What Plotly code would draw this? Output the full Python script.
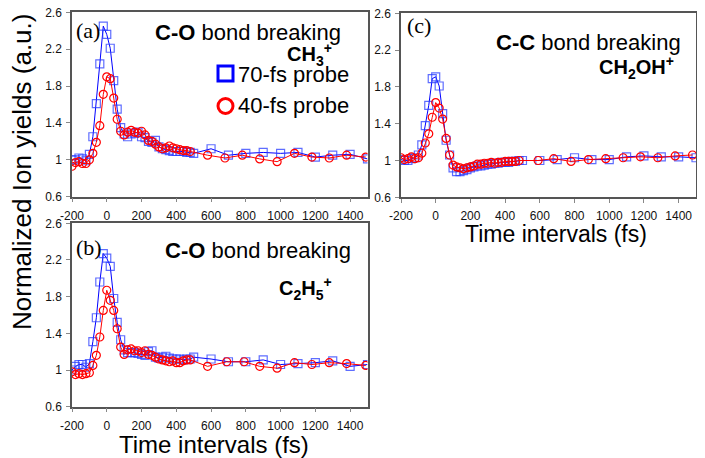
import plotly.graph_objects as go

W, H = 705, 458

# ---------------- data ----------------
# Panel (a): CH3+  (C-O bond breaking)
t_a_70 = [-200, -180, -160, -140, -120, -100, -80, -60, -40, -20, 0, 20, 40, 60, 80, 100, 120, 140, 160, 180,
          200, 220, 240, 260, 280, 300, 320, 340, 360, 380, 400, 420, 440, 460, 480, 500,
          600, 700, 800, 900, 1000, 1100, 1200, 1300, 1400, 1500]
y_a_70 = [1.00, 1.00, 1.02, 1.01, 0.99, 1.06, 1.25, 1.61, 2.04, 2.45, 2.36, 2.21, 1.86, 1.55, 1.35, 1.28, 1.25, 1.28, 1.29, 1.30,
          1.25, 1.24, 1.20, 1.19, 1.21, 1.14, 1.12, 1.11, 1.10, 1.09, 1.09, 1.09, 1.09, 1.08, 1.08, 1.07,
          1.12, 1.05, 1.07, 1.08, 1.07, 1.08, 1.03, 1.05, 1.06, 1.01]
t_a_40 = [-200, -180, -160, -140, -120, -100, -80, -60, -40, -20, 0, 20, 40, 60, 80, 100, 120, 140, 160, 180,
          200, 220, 240, 260, 280, 300, 320, 340, 360, 380, 400, 420, 440, 460, 480,
          580, 680, 780, 880, 980, 1080, 1180, 1280, 1380, 1490]
y_a_40 = [0.93, 0.97, 0.98, 0.96, 0.96, 1.00, 1.07, 1.19, 1.37, 1.71, 1.90, 1.88, 1.67, 1.44, 1.31, 1.27, 1.30, 1.32, 1.30, 1.29,
          1.31, 1.27, 1.21, 1.20, 1.17, 1.14, 1.12, 1.13, 1.15, 1.13, 1.12, 1.11, 1.10, 1.10, 1.09,
          1.05, 1.02, 1.05, 1.01, 0.98, 1.07, 1.03, 1.02, 1.05, 1.03]

# Panel (b): C2H5+  (C-O bond breaking)
t_b_70 = [-200, -180, -160, -140, -120, -100, -80, -60, -40, -20, 0, 20, 40, 60, 80, 100, 120, 140, 160, 180,
          200, 220, 240, 260, 280, 300, 320, 340, 360, 380, 400, 420, 440, 460, 480, 500,
          600, 700, 800, 900, 1000, 1100, 1200, 1300, 1400, 1500]
y_b_70 = [1.00, 1.04, 1.06, 1.06, 1.03, 1.07, 1.31, 1.57, 1.96, 2.27, 2.22, 2.13, 1.78, 1.52, 1.33, 1.22, 1.19, 1.19, 1.19, 1.18,
          1.17, 1.16, 1.20, 1.21, 1.14, 1.13, 1.14, 1.15, 1.13, 1.12, 1.12, 1.12, 1.11, 1.12, 1.12, 1.14,
          1.12, 1.09, 1.09, 1.11, 1.06, 1.07, 1.08, 1.10, 1.04, 1.06]
t_b_40 = [-200, -180, -160, -140, -120, -100, -80, -60, -40, -20, 0, 20, 40, 60, 80, 100, 120, 140, 160, 180,
          200, 220, 240, 260, 280, 300, 320, 340, 360, 380, 400, 420, 440, 460, 480,
          580, 690, 790, 880, 980, 1080, 1180, 1280, 1380, 1490]
y_b_40 = [0.98, 0.95, 0.96, 0.95, 0.96, 0.97, 1.05, 1.16, 1.36, 1.65, 1.87, 1.76, 1.65, 1.45, 1.25, 1.17, 1.22, 1.23, 1.21, 1.21,
          1.19, 1.21, 1.17, 1.16, 1.14, 1.12, 1.11, 1.10, 1.09, 1.10, 1.08, 1.08, 1.10, 1.11, 1.11,
          1.04, 1.09, 1.09, 1.04, 1.02, 1.08, 1.06, 1.08, 1.07, 1.05]

# Panel (c): CH2OH+  (C-C bond breaking)
t_c_70 = [-200, -180, -160, -140, -120, -100, -80, -60, -40, -20, 0, 20, 40, 60, 80, 100, 120, 140, 160, 180,
          200, 220, 240, 260, 280, 300, 320, 340, 360, 380, 400, 420, 440, 460, 480, 500,
          600, 700, 800, 900, 1000, 1100, 1200, 1300, 1400, 1500]
y_c_70 = [1.01, 1.00, 1.00, 1.02, 1.03, 1.06, 1.17, 1.38, 1.60, 1.89, 1.91, 1.81, 1.51, 1.22, 1.06, 0.92, 0.88, 0.88, 0.89, 0.90,
          0.92, 0.93, 0.94, 0.94, 0.95, 0.96, 0.96, 0.97, 0.97, 0.98, 0.98, 0.98, 0.99, 0.99, 1.00, 1.00,
          1.00, 1.01, 1.03, 1.01, 1.01, 1.04, 1.05, 1.04, 1.04, 1.03]
t_c_40 = [-200, -180, -160, -140, -120, -100, -80, -60, -40, -20, 0, 20, 40, 60, 80, 100, 120, 140, 160, 180,
          200, 220, 240, 260, 280, 300, 320, 340, 360, 380, 400, 420, 440, 460, 480,
          590, 680, 780, 880, 980, 1080, 1180, 1280, 1380, 1480]
y_c_40 = [1.03, 1.01, 1.02, 1.04, 1.02, 1.03, 1.08, 1.19, 1.29, 1.47, 1.63, 1.57, 1.45, 1.24, 1.06, 0.95, 0.93, 0.92, 0.91, 0.92,
          0.93, 0.94, 0.96, 0.96, 0.97, 0.97, 0.98, 0.97, 0.98, 0.98, 0.99, 0.99, 0.99, 0.99, 1.00,
          1.00, 1.02, 0.99, 1.01, 1.02, 1.03, 1.04, 1.03, 1.05, 1.06]

x_ticks = [-200, 0, 200, 400, 600, 800, 1000, 1200, 1400]
x_tick_labels = ["-200", "0", "200", "400", "600", "800", "1000", "1200", "1400"]
y_ticks = [0.6, 1.0, 1.4, 1.8, 2.2, 2.6]
y_tick_labels = ["0.6", "1", "1.4", "1.8", "2.2", "2.6"]

# ---------------- helpers ----------------
OFF = 8  # page body margin offset

def fx(p):
    return (p - OFF) / W

def fy(p):
    return 1 - (p - OFF) / H

BLUE = "rgb(0,0,255)"
RED = "rgb(255,0,0)"
FONT = "Liberation Sans, Arial, sans-serif"
SERIF = "Liberation Serif, Times New Roman, serif"

fig = go.Figure()

panels = [
    ("x", "y", t_a_70, y_a_70, t_a_40, y_a_40),
    ("x2", "y2", t_b_70, y_b_70, t_b_40, y_b_40),
    ("x3", "y3", t_c_70, y_c_70, t_c_40, y_c_40),
]
for xa, ya, tb, yb, tr, yr in panels:
    fig.add_trace(go.Scatter(
        x=tb, y=yb, xaxis=xa, yaxis=ya, mode="lines+markers",
        line=dict(color=BLUE, width=1),
        marker=dict(symbol="square-open", size=8, color="rgba(40,60,255,0.75)", line=dict(width=1.2)),
        showlegend=False, name="70-fs probe"))
    fig.add_trace(go.Scatter(
        x=tr, y=yr, xaxis=xa, yaxis=ya, mode="lines+markers",
        line=dict(color=RED, width=1),
        marker=dict(symbol="circle-open", size=8, color=RED, line=dict(width=1.2)),
        showlegend=False, name="40-fs probe"))

def xaxis(domain, anchor):
    return dict(domain=domain, anchor=anchor, range=[-200, 1500], tickvals=x_ticks, ticktext=x_tick_labels,
                ticks="outside", ticklen=4, tickcolor="#888", tickwidth=1, automargin=False,
                ticklabelstandoff=3, ticklabeloverflow="allow",
                showline=True, mirror=True, linecolor="#555", linewidth=1.5,
                showgrid=False, zeroline=False,
                tickfont=dict(family=FONT, size=12, color="#111"))

def yaxis(domain, anchor):
    return dict(domain=domain, anchor=anchor, range=[0.6, 2.6], tickvals=y_ticks, ticktext=y_tick_labels,
                ticks="outside", ticklen=4, tickcolor="#888", tickwidth=1, automargin=False,
                ticklabelstandoff=2, ticklabeloverflow="allow",
                showline=True, mirror=True, linecolor="#555", linewidth=1.5,
                showgrid=False, zeroline=False,
                tickfont=dict(family=FONT, size=12, color="#111"))

xa_dom = [fx(72), fx(367.5)]
xc_dom = [fx(401), fx(696)]
ya_dom = [fy(196.7), fy(12.3)]
yb_dom = [fy(406.7), fy(223.3)]
yc_dom = [fy(197.3), fy(13.3)]

annotations = []

def txt(x, y, s, size, family=FONT, xanchor="left", angle=0):
    annotations.append(dict(x=fx(x), y=fy(y), xref="paper", yref="paper", text=s, showarrow=False,
                            xanchor=xanchor, yanchor="middle", textangle=angle,
                            font=dict(family=family, size=size, color="black")))

# panel labels
txt(74, 30, "(a)", 22, family=SERIF)
txt(74, 247, "(b)", 22, family=SERIF)
txt(405, 26, "(c)", 22, family=SERIF)

# bond breaking titles
txt(343, 32, "<b>C-O</b> bond breaking", 22, xanchor="right")
txt(334, 55, "<b>CH<sub>3</sub><sup>+</sup></b>", 20, xanchor="right")
txt(353, 250, "<b>C-O</b> bond breaking", 22, xanchor="right")
txt(334, 288, "<b>C<sub>2</sub>H<sub>5</sub><sup>+</sup></b>", 20, xanchor="right")
txt(683, 42, "<b>C-C</b> bond breaking", 22, xanchor="right")
txt(676, 68, "<b>CH<sub>2</sub>OH<sup>+</sup></b>", 20, xanchor="right")

# legend text
txt(236, 74, "70-fs probe", 22)
txt(236, 106, "40-fs probe", 22)

# axis titles
txt(22, 172, "Normalized Ion yields (a.u.)", 26, xanchor="center", angle=-90)
txt(214, 444, "Time intervals (fs)", 24, xanchor="center")
txt(556, 234, "Time intervals (fs)", 23, xanchor="center")

shapes = [
    dict(type="rect", xref="paper", yref="paper",
         x0=fx(218), x1=fx(233), y0=fy(81), y1=fy(66),
         line=dict(color=BLUE, width=3), fillcolor="rgba(0,0,0,0)"),
    dict(type="circle", xref="paper", yref="paper",
         x0=fx(218), x1=fx(233), y0=fy(113.5), y1=fy(98.5),
         line=dict(color=RED, width=3), fillcolor="rgba(0,0,0,0)"),
]

fig.update_layout(
    width=W, height=H,
    template="none",
    margin=dict(l=0, r=0, t=0, b=0, pad=0, autoexpand=False),
    paper_bgcolor="white", plot_bgcolor="white",
    showlegend=False,
    xaxis=xaxis(xa_dom, "y"), yaxis=yaxis(ya_dom, "x"),
    xaxis2=xaxis(xa_dom, "y2"), yaxis2=yaxis(yb_dom, "x2"),
    xaxis3=xaxis(xc_dom, "y3"), yaxis3=yaxis(yc_dom, "x3"),
    annotations=annotations, shapes=shapes,
)

fig.write_html("out.html")
